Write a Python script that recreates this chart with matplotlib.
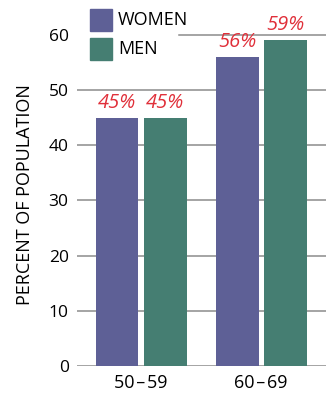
import matplotlib
matplotlib.use("Agg")
import matplotlib.pyplot as plt
from matplotlib.patches import Rectangle
import numpy as np

# data
groups = ["50\u200a\u2013\u200a59", "60\u200a\u2013\u200a69"]
women = [45, 56]
men = [45, 59]
yticks = [0, 10, 20, 30, 40, 50, 60]

WOMEN_C = "#5e6096"
MEN_C = "#457e72"
RED = "#e0303a"
GRID = "#8c8c8c"

plt.rcParams["font.family"] = ["Open Sans", "DejaVu Sans"]

W, H = 326, 393
fig = plt.figure(figsize=(W / 100, H / 100), dpi=100)
ax = fig.add_axes([77 / W, 1 - 366 / H, 249 / W, 366 / H])

x = np.arange(len(groups))
w = 0.355
bw = ax.bar(x - 0.196, women, w, color=WOMEN_C, zorder=3)
bm = ax.bar(x + 0.206, men, w, color=MEN_C, zorder=3)

# gridlines (the top one is cut short by the legend)
for t in yticks:
    xmin = (179 - 77) / 249 if t == 60 else 0
    ax.axhline(t, xmin=xmin, color=GRID, lw=1.1, zorder=1)

# value labels
for bars, vals in [(bw, women), (bm, men)]:
    for b, v in zip(bars, vals):
        ax.text(b.get_x() + b.get_width() / 2, v + 0.9, f"{v}%",
                ha="center", va="bottom", color=RED, fontsize=14.5,
                style="italic")

ax.set_xlim(-0.527, 1.539)
ax.set_ylim(0, 66.3)
ax.set_xticks(x)
ax.set_xticklabels(groups, fontsize=13)
ax.set_yticks(yticks)
ax.set_yticklabels([str(t) for t in yticks], fontsize=12.5)
ax.tick_params(length=0, pad=6)
ax.set_ylabel("PERCENT OF POPULATION", fontsize=13)
ax.yaxis.set_label_coords((34 - 77) / 249, (366 - 195) / 366)
for s in ax.spines.values():
    s.set_visible(False)

# legend, drawn by hand (pixel positions)
for (label, c), top in zip([("WOMEN", WOMEN_C), ("MEN", MEN_C)], [9, 38]):
    fig.patches.append(Rectangle((90 / W, 1 - (top + 22) / H), 22 / W, 22 / H,
                                 transform=fig.transFigure, color=c))
    fig.text(118 / W, 1 - (top + 11) / H, label, fontsize=13,
             ha="left", va="center")

fig.savefig("out.png", dpi=100)
